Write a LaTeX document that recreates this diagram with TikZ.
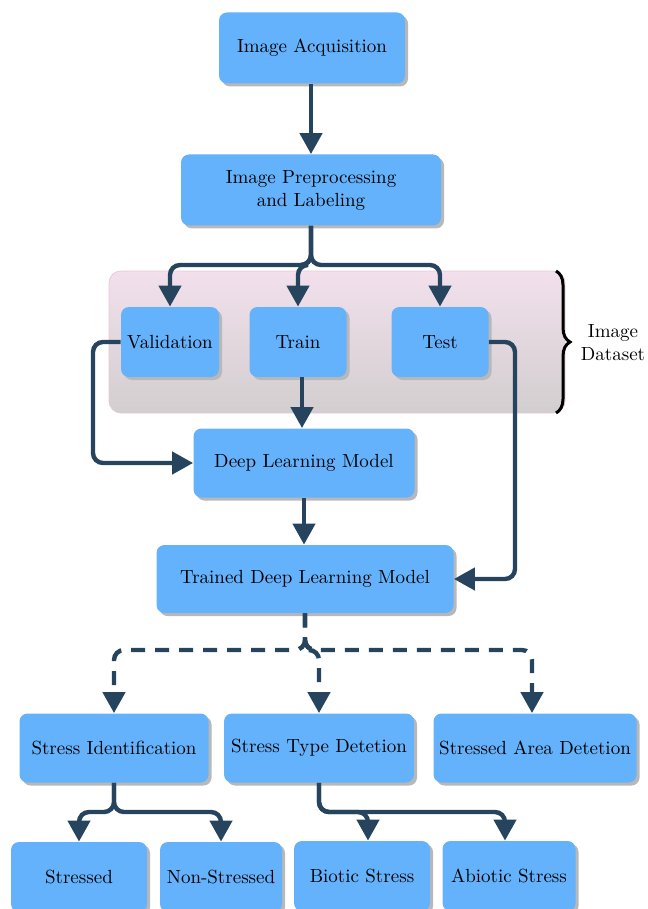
\documentclass[tikz,border=0pt]{standalone}
\usepackage{tikz}
\usetikzlibrary{arrows.meta,shadows,decorations.pathreplacing}
\definecolor{boxblue}{RGB}{100,178,252}
\definecolor{arrowdark}{RGB}{38,68,94}
\definecolor{bandtop}{RGB}{242,224,236}
\definecolor{bandbottom}{RGB}{210,206,207}
\definecolor{bandedge}{RGB}{232,200,212}

\begin{document}
\begin{tikzpicture}[x=0.5pt,y=0.5pt,font=\fontsize{9.5}{11.5}\selectfont]
\tikzstyle{box}=[fill=boxblue,rounded corners=4pt,align=center,inner sep=2pt,drop shadow={shadow xshift=1.5pt,shadow yshift=-1.5pt,fill=black!28,opacity=1}]
\tikzstyle{flow}=[draw=arrowdark,line width=2.2pt,rounded corners=5pt,-{Triangle[length=10.5pt,width=11pt]}]
\tikzstyle{dashflow}=[flow,dash pattern=on 7pt off 5pt]
\useasboundingbox (0,0) rectangle (647,-909);
% dataset band
\draw [draw=bandedge,top color=bandtop,bottom color=bandbottom,rounded corners=6pt] (109,-271) rectangle (565,-413);
\draw [decorate,decoration={brace,amplitude=7pt},line width=1.5pt] (556,-271) -- (556,-413);
\node [align=center] (dataset) at (613,-343) {Image\\Dataset};
% boxes
\node [box,minimum width=93pt,minimum height=35.5pt] (acq) at (312,-48) {Image Acquisition};
\node [box,minimum width=130pt,minimum height=35.5pt] (prep) at (311,-190) {Image Preprocessing\\and Labeling};
\node [box,minimum width=49pt,minimum height=35pt] (val) at (170,-342) {Validation};
\node [box,minimum width=48.5pt,minimum height=35pt] (train) at (298,-342) {Train};
\node [box,minimum width=48.5pt,minimum height=35pt] (test) at (440,-342) {Test};
\node [box,minimum width=110.5pt,minimum height=34.5pt] (dl) at (304,-463) {Deep Learning Model};
\node [box,minimum width=148.5pt,minimum height=34pt] (trained) at (305,-579) {Trained Deep Learning Model};
\node [box,minimum width=94.5pt,minimum height=34.5pt] (si) at (114,-748) {Stress Identification};
\node [box,minimum width=95pt,minimum height=34.5pt] (std) at (319,-748) {Stress Type Detetion};
\node [box,minimum width=101.5pt,minimum height=34.5pt] (sad) at (535,-748) {Stressed Area Detetion};
\node [box,minimum width=68pt,minimum height=35pt] (stressed) at (79,-877) {Stressed};
\node [box,minimum width=61pt,minimum height=35pt] (nonstressed) at (221,-877) {Non-Stressed};
\node [box,minimum width=68pt,minimum height=35pt] (biotic) at (362,-876) {Biotic Stress};
\node [box,minimum width=66.5pt,minimum height=35pt] (abiotic) at (509,-876) {Abiotic Stress};
% connectors
\draw [flow] (acq.south -| prep.north) -- (prep.north);
\draw [flow] (prep.south) -- (311,-265) -| (val);
\draw [flow] (prep.south) -- (311,-265) -| (train);
\draw [flow] (prep.south) -- (311,-265) -| (test);
\draw [flow] ([xshift=2pt]train.south) -- ([xshift=2pt]train.south |- dl.north);
\draw [flow] (val.west) -- (93,-342) |- (dl.west);
\draw [flow] (test.east) -- (515,-342) |- (trained.east);
\draw [flow] (dl.south) -- (dl.south |- trained.north);
\draw [dashflow] (trained.south) -- (305,-650) -| (si);
\draw [dashflow] (trained.south) -- (305,-650) -| (std);
\draw [dashflow] (trained.south) -- (305,-650) -| ([xshift=-1.5pt]sad.north);
\draw [flow] (si.south) -- (114,-812) -| (stressed);
\draw [flow] (si.south) -- (114,-812) -| (nonstressed);
\draw [flow] (std.south) -- (319,-812) -| ([xshift=3pt]biotic.north);
\draw [flow] (std.south) -- (319,-812) -| ([xshift=-2pt]abiotic.north);
\end{tikzpicture}
\end{document}
